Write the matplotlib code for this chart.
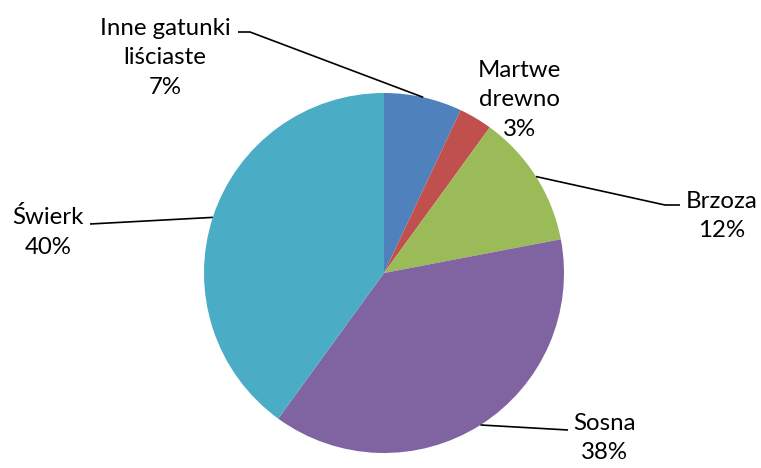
import matplotlib
matplotlib.use("Agg")
import matplotlib.pyplot as plt
import numpy as np

labels = ["Inne gatunki\nliściaste", "Martwe\ndrewno", "Brzoza", "Sosna", "Świerk"]
values = [7, 3, 12, 38, 40]
colors = ["#4F81BD", "#C0504D", "#9BBB59", "#8064A2", "#4BACC6"]

W, H = 761, 468
fig = plt.figure(figsize=(W / 100, H / 100), dpi=100)
ax = fig.add_axes([0, 0, 1, 1])

cx, cy, r = 384, H - 273, 180
wedges, _ = ax.pie(values, colors=colors, startangle=90, counterclock=False,
                   center=(cx, cy), radius=r, wedgeprops=dict(linewidth=0),
                   frame=True)
ax.set_xlim(0, W)
ax.set_ylim(0, H)
ax.set_aspect("equal")
ax.axis("off")

font = ["Lato", "DejaVu Sans"]
fs = 17.3

# label positions (pixel coords from top) and leader elbow points
label_pos = [(165, 58), (519, 100), (722, 216), (604, 438), (48, 232)]
elbows = [[(250, 32), (238, 32)], None, [(665, 205), (680, 205)],
          [(568, 430)], [(90, 224)]]

for w, v, lab, (lx, ly), elb in zip(wedges, values, labels, label_pos, elbows):
    theta = np.deg2rad((w.theta1 + w.theta2) / 2)
    sx, sy = cx + r * np.cos(theta), cy + r * np.sin(theta)
    if elb is not None:
        xs = [sx] + [p[0] for p in elb]
        ys = [sy] + [H - p[1] for p in elb]
        ax.plot(xs, ys, color="black", lw=1.2, solid_capstyle="butt")
    ax.text(lx, H - ly, f"{lab}\n{v}%", ha="center", va="center",
            fontsize=fs, family=font, linespacing=1.5, color="black")

fig.savefig("out.png", dpi=100)
